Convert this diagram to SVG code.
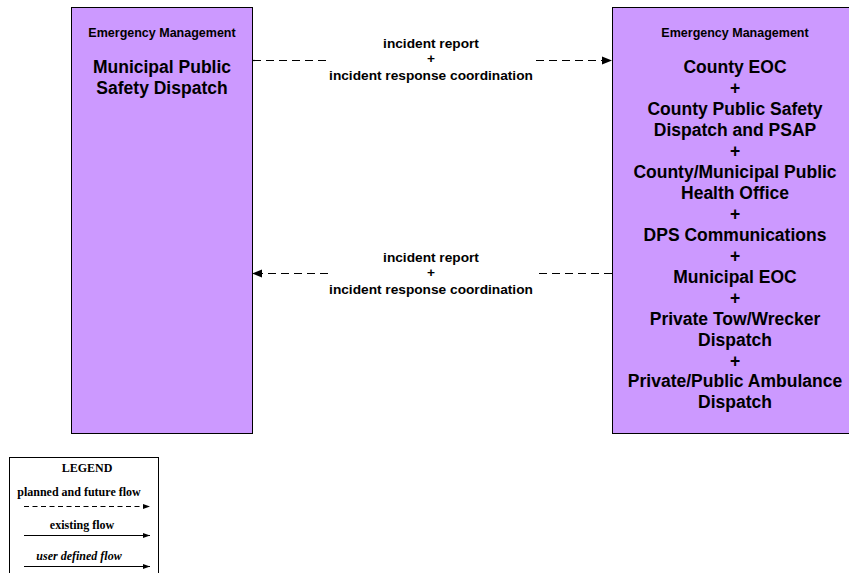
<svg xmlns="http://www.w3.org/2000/svg" width="849" height="573" viewBox="0 0 849 573">
<defs>
<style>
.box{fill:#CC99FF;stroke:#000;stroke-width:1}
.sm{font-family:"Liberation Sans",Arial,sans-serif;font-weight:bold;font-size:12.5px;text-anchor:middle;fill:#000}
.lg{font-family:"Liberation Sans",Arial,sans-serif;font-weight:bold;font-size:17.5px;text-anchor:middle;fill:#000}
.lbl{font-family:"Liberation Sans",Arial,sans-serif;font-weight:bold;font-size:13.7px;text-anchor:middle;fill:#000}
.flow{stroke:#000;stroke-width:1.2;fill:none;stroke-dasharray:8 5}
.leg{font-family:"Liberation Serif","Times New Roman",serif;font-weight:bold;font-size:12px;text-anchor:middle;fill:#000}
.lline{stroke:#000;stroke-width:1.2;fill:none}
</style>
<marker id="ah" viewBox="0 0 10 10" refX="10" refY="5" markerWidth="10" markerHeight="10" markerUnits="userSpaceOnUse" orient="auto">
<path d="M0,1 L10,5 L0,9 Z" fill="#000"/>
</marker>
<marker id="ahs" viewBox="0 0 10 10" refX="10" refY="5" markerWidth="7" markerHeight="7" markerUnits="userSpaceOnUse" orient="auto">
<path d="M0,1.5 L10,5 L0,8.5 Z" fill="#000"/>
</marker>
</defs>
<rect width="849" height="573" fill="#fff"/>

<g id="node-municipal-dispatch">
<rect class="box" x="71.5" y="7.5" width="181" height="426"/>
<text class="sm" x="162" y="37">Emergency Management</text>
<text class="lg" x="162" y="73">Municipal Public</text>
<text class="lg" x="162" y="94">Safety Dispatch</text>
</g>

<g id="node-county-eoc">
<rect class="box" x="612.5" y="7.5" width="246" height="426"/>
<text class="sm" x="735" y="37">Emergency Management</text>
<text class="lg" x="735" y="73.3">County EOC</text>
<text class="lg" x="735" y="94.2">+</text>
<text class="lg" x="735" y="115.2">County Public Safety</text>
<text class="lg" x="735" y="136.1">Dispatch and PSAP</text>
<text class="lg" x="735" y="157.1">+</text>
<text class="lg" x="735" y="178">County/Municipal Public</text>
<text class="lg" x="735" y="198.9">Health Office</text>
<text class="lg" x="735" y="219.9">+</text>
<text class="lg" x="735" y="240.8">DPS Communications</text>
<text class="lg" x="735" y="261.8">+</text>
<text class="lg" x="735" y="282.7">Municipal EOC</text>
<text class="lg" x="735" y="303.6">+</text>
<text class="lg" x="735" y="324.6">Private Tow/Wrecker</text>
<text class="lg" x="735" y="345.5">Dispatch</text>
<text class="lg" x="735" y="366.5">+</text>
<text class="lg" x="735" y="387.4">Private/Public Ambulance</text>
<text class="lg" x="735" y="408.3">Dispatch</text>
</g>

<g id="connectors">
<path class="flow" d="M253,60.5 H330"/>
<path class="flow" d="M536,60.5 H612" marker-end="url(#ah)"/>
<text class="lbl" x="431" y="48">incident report</text>
<text class="lbl" x="431" y="63">+</text>
<text class="lbl" x="431" y="80">incident response coordination</text>

<path class="flow" d="M612,273.5 H534"/>
<path class="flow" d="M328,273.5 H252" marker-end="url(#ah)"/>
<text class="lbl" x="431" y="262">incident report</text>
<text class="lbl" x="431" y="277">+</text>
<text class="lbl" x="431" y="294">incident response coordination</text>
</g>

<g id="legend">
<rect x="9.5" y="457.5" width="149" height="130" fill="#fff" stroke="#000" stroke-width="1"/>
<text class="leg" x="87" y="472">LEGEND</text>
<text class="leg" x="79" y="496">planned and future flow</text>
<path class="lline" d="M24,506.5 H150" stroke-dasharray="5 3.5" marker-end="url(#ahs)"/>
<text class="leg" x="82" y="529">existing flow</text>
<path class="lline" d="M24,535.5 H150" marker-end="url(#ahs)"/>
<text class="leg" x="79" y="560" font-style="italic">user defined flow</text>
<path class="lline" d="M24,566.5 H150" marker-end="url(#ahs)"/>
</g>
</svg>
